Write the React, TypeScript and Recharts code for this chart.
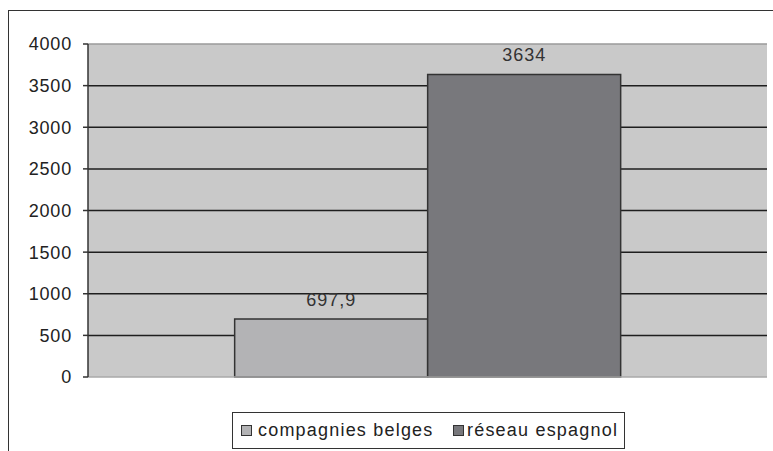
import { BarChart, Bar, XAxis, YAxis, CartesianGrid, Legend, LabelList, ReferenceLine } from 'recharts';

const categories = [''];
const belgianCompanies = [697.9];
const spanishNetwork = [3634];
const yTicks = [0, 500, 1000, 1500, 2000, 2500, 3000, 3500, 4000];

const series = [
  { key: 'belges', name: 'compagnies belges', fill: '#b3b3b5' },
  { key: 'espagnol', name: 'réseau espagnol', fill: '#78787c' },
];

const data = categories.map((cat, i) => ({
  cat,
  belges: belgianCompanies[i],
  espagnol: spanishNetwork[i],
}));

const FONT = '"Liberation Sans", Arial, sans-serif';

const LegendBox = () => (
  <div
    style={{
      boxSizing: 'border-box',
      width: 393,
      height: 37,
      border: '1px solid #333',
      background: '#fff',
      display: 'flex',
      alignItems: 'center',
      paddingLeft: 8,
      fontFamily: FONT,
      fontSize: 18,
      letterSpacing: 1.2,
      color: '#222',
    }}
  >
    {series.map((s, i) => (
      <div key={s.key} style={{ display: 'flex', alignItems: 'center', width: i === 0 ? 212 : 'auto' }}>
        <span
          style={{
            display: 'inline-block',
            boxSizing: 'border-box',
            width: 11,
            height: 11,
            background: s.fill,
            border: '1.5px solid #333',
            marginRight: i === 0 ? 6 : 3,
          }}
        />
        <span>{s.name}</span>
      </div>
    ))}
  </div>
);

export default function App() {
  return (
    <div>
      <style>{'body{margin:0;overflow:hidden;background:#fff}'}</style>
      <div
        style={{
          position: 'absolute',
          left: 8,
          top: 10,
          width: 780,
          height: 460,
          border: '1px solid #333',
        }}
      >
        <BarChart
          width={760}
          height={440}
          data={data}
          margin={{ top: 33, right: 2, left: 0, bottom: 2 }}
          barCategoryGap="21.6%"
          barGap={0}
        >
          <CartesianGrid
            vertical={false}
            horizontalValues={[500, 1000, 1500, 2000, 2500, 3000, 3500]}
            stroke="#1e1e1e"
            strokeWidth={1.5}
            fill="#c9c9c9"
          />
          <ReferenceLine y={4000} stroke="#9a9a9a" strokeWidth={1.5} />
          <XAxis dataKey="cat" height={35} tick={false} tickLine={false} axisLine={{ stroke: '#a8a8a8', strokeWidth: 1.5 }} />
          <YAxis
            width={79}
            domain={[0, 4000]}
            ticks={yTicks}
            interval={0}
            tickSize={5}
            tickMargin={11}
            axisLine={{ stroke: '#333', strokeWidth: 1.5 }}
            tickLine={{ stroke: '#333', strokeWidth: 1.5 }}
            tick={{ fontSize: 18, fill: '#222', fontFamily: FONT, letterSpacing: 0.8 }}
          />
          <Legend
            verticalAlign="bottom"
            content={() => <LegendBox />}
            wrapperStyle={{ left: 223, width: 393, bottom: 2 }}
          />
          {series.map((s) => (
            <Bar key={s.key} dataKey={s.key} name={s.name} fill={s.fill} stroke="#333" strokeWidth={1.5} isAnimationActive={false}>
              <LabelList
                dataKey={s.key}
                position="top"
                offset={13}
                formatter={(v: any) => String(v).replace('.', ',')}
                style={{ fontSize: 18, fill: '#333', fontFamily: FONT, letterSpacing: 1 }}
              />
            </Bar>
          ))}
        </BarChart>
      </div>
    </div>
  );
}
